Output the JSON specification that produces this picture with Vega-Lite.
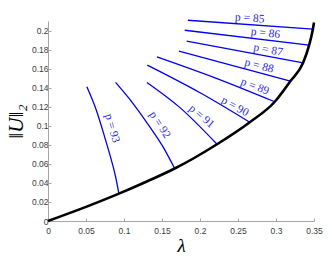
{
  "$schema": "https://vega.github.io/schema/vega-lite/v6.json",
  "width": 266,
  "height": 200,
  "autosize": "none",
  "padding": {"left": 48, "top": 21, "right": 18, "bottom": 35},
  "background": "white",
  "config": {
    "view": {"stroke": null},
    "axis": {
      "grid": false,
      "domainColor": "#a6a6a6",
      "tickColor": "#a6a6a6",
      "tickSize": -3,
      "labelOverlap": false,
      "labelFlush": false,
      "labelBound": false,
      "labelFont": "Liberation Sans",
      "labelFontSize": 8.5,
      "labelColor": "#3a3a3a",
      "titleFont": "Liberation Serif",
      "titleFontWeight": "normal",
      "titleColor": "#000000"
    }
  },
  "datasets": {
    "curve": [
      {"i": 0, "x": 0, "y": 0},
      {"i": 1, "x": 0.05, "y": 0.0148},
      {"i": 2, "x": 0.0933, "y": 0.0287},
      {"i": 3, "x": 0.13, "y": 0.0415},
      {"i": 4, "x": 0.1667, "y": 0.0551},
      {"i": 5, "x": 0.2224, "y": 0.0806},
      {"i": 6, "x": 0.2655, "y": 0.1037},
      {"i": 7, "x": 0.2984, "y": 0.1252},
      {"i": 8, "x": 0.319, "y": 0.1469},
      {"i": 9, "x": 0.3357, "y": 0.1661},
      {"i": 10, "x": 0.3436, "y": 0.1846},
      {"i": 11, "x": 0.3485, "y": 0.2014},
      {"i": 12, "x": 0.35, "y": 0.2085}
    ],
    "branches": [
      {"p": 85, "i": 0, "x": 0.184, "y": 0.2108},
      {"p": 85, "i": 1, "x": 0.3485, "y": 0.2014},
      {"p": 86, "i": 0, "x": 0.18, "y": 0.2003},
      {"p": 86, "i": 1, "x": 0.3436, "y": 0.1846},
      {"p": 87, "i": 0, "x": 0.1825, "y": 0.1888},
      {"p": 87, "i": 1, "x": 0.3357, "y": 0.1661},
      {"p": 88, "i": 0, "x": 0.1723, "y": 0.1783},
      {"p": 88, "i": 1, "x": 0.319, "y": 0.1469},
      {"p": 89, "i": 0, "x": 0.1433, "y": 0.1724},
      {"p": 89, "i": 1, "x": 0.2207, "y": 0.1501},
      {"p": 89, "i": 2, "x": 0.2984, "y": 0.1252},
      {"p": 90, "i": 0, "x": 0.1307, "y": 0.1637},
      {"p": 90, "i": 1, "x": 0.1996, "y": 0.1349},
      {"p": 90, "i": 2, "x": 0.2655, "y": 0.1037},
      {"p": 91, "i": 0, "x": 0.1302, "y": 0.1455},
      {"p": 91, "i": 1, "x": 0.1733, "y": 0.1193},
      {"p": 91, "i": 2, "x": 0.2224, "y": 0.0806},
      {"p": 92, "i": 0, "x": 0.0889, "y": 0.1455},
      {"p": 92, "i": 1, "x": 0.1117, "y": 0.1236},
      {"p": 92, "i": 2, "x": 0.1337, "y": 0.0991},
      {"p": 92, "i": 3, "x": 0.1512, "y": 0.0781},
      {"p": 92, "i": 4, "x": 0.1667, "y": 0.0551},
      {"p": 93, "i": 0, "x": 0.0511, "y": 0.1409},
      {"p": 93, "i": 1, "x": 0.0635, "y": 0.1165},
      {"p": 93, "i": 2, "x": 0.0744, "y": 0.0886},
      {"p": 93, "i": 3, "x": 0.0833, "y": 0.0642},
      {"p": 93, "i": 4, "x": 0.0889, "y": 0.0467},
      {"p": 93, "i": 5, "x": 0.0933, "y": 0.0286}
    ],
    "labels": [
      {"label": "p = 85", "x": 0.2655, "y": 0.2126, "angle": 4},
      {"label": "p = 86", "x": 0.2862, "y": 0.1969, "angle": 7},
      {"label": "p = 87", "x": 0.2896, "y": 0.1794, "angle": 10.5},
      {"label": "p = 88", "x": 0.2777, "y": 0.1626, "angle": 15},
      {"label": "p = 89", "x": 0.2721, "y": 0.1409, "angle": 21},
      {"label": "p = 90", "x": 0.2457, "y": 0.12, "angle": 29},
      {"label": "p = 91", "x": 0.2018, "y": 0.1095, "angle": 40},
      {"label": "p = 92", "x": 0.1469, "y": 0.1008, "angle": 57},
      {"label": "p = 93", "x": 0.084, "y": 0.0974, "angle": 74}
    ]
  },
  "encoding": {
    "x": {"field": "x", "type": "quantitative", "scale": {"domain": [0, 0.35], "nice": false},
          "axis": {"values": [0, 0.05, 0.1, 0.15, 0.2, 0.25, 0.3, 0.35], "format": "~g", "labelOverlap": false, "title": "λ", "titleFontSize": 19, "titleFontStyle": "italic", "titlePadding": 2, "labelPadding": 8}},
    "y": {"field": "y", "type": "quantitative", "scale": {"domain": [0, 0.21], "nice": false},
          "axis": {"values": [0, 0.02, 0.04, 0.06, 0.08, 0.1, 0.12, 0.14, 0.16, 0.18, 0.2], "format": "~g", "labelOverlap": false, "title": "‖U‖₂", "titleFontSize": 21, "titleFontStyle": "italic", "titlePadding": 5, "labelPadding": 3}}
  },
  "layer": [
    {
      "data": {"name": "branches"},
      "mark": {"type": "line", "color": "#0000ee", "strokeWidth": 1.3, "interpolate": "monotone"},
      "encoding": {
        "detail": {"field": "p", "type": "nominal"},
        "order": {"field": "i", "type": "quantitative"}
      }
    },
    {
      "data": {"name": "curve"},
      "mark": {"type": "line", "color": "#000000", "strokeWidth": 2.6, "interpolate": "monotone"},
      "encoding": {
        "order": {"field": "i", "type": "quantitative"}
      }
    },
    {
      "data": {"name": "labels"},
      "mark": {"type": "text", "font": "Liberation Serif", "fontSize": 11.5, "color": "#2a2ae6", "align": "center", "baseline": "middle"},
      "encoding": {
        "text": {"field": "label", "type": "nominal"},
        "angle": {"field": "angle", "type": "quantitative", "scale": null}
      }
    }
  ]
}
